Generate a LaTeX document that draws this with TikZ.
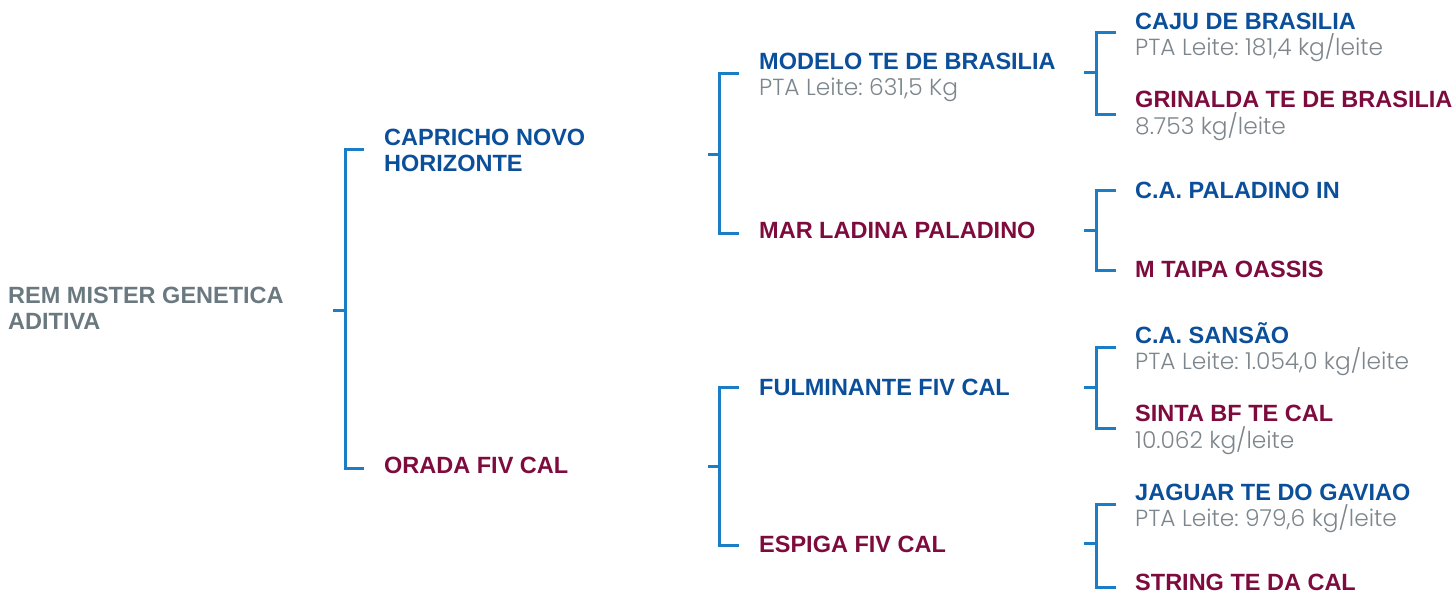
\documentclass[tikz,border=0pt]{standalone}
\usepackage{fontspec}
\setmainfont{Liberation Sans}
\newfontfamily\popfont{Poppins}[UprightFont=* Light]
\frenchspacing
\definecolor{nblue}{HTML}{0B4F9A}
\definecolor{nred}{HTML}{7E0B3E}
\definecolor{ngray}{HTML}{6A7880}
\definecolor{sgray}{HTML}{7D868C}
\definecolor{brblue}{HTML}{1A7DC6}
\begin{document}
\begin{tikzpicture}[x=1pt,y=-1pt,
  nm/.style={anchor=base west, inner sep=0pt, font=\bfseries\fontsize{23.5}{28}\selectfont},
  sire/.style={nm, text=nblue},
  dam/.style={nm, text=nred},
  root/.style={nm, text=ngray},
  sub/.style={anchor=base west, inner sep=0pt, font=\popfont\frenchspacing\fontsize{23.3}{27}\selectfont, text=sgray},
  br/.style={draw=brblue, line width=3pt, line join=miter, line cap=butt}]
\useasboundingbox (0,0) rectangle (1455,595);

% texts (base = cap centre + 8.4)
\node[root] (r1) at (8,303.4) {REM MISTER GENETICA};
\node[root] (r2) at (8,329.4) {ADITIVA};

\node[sire] (p1) at (384,145.4) {CAPRICHO NOVO};
\node[sire] (p1b) at (384,171.4) {HORIZONTE};
\node[dam] (p2) at (384,473.4) {ORADA FIV CAL};

\node[sire] (g1) at (759,69.4) {MODELO TE DE BRASILIA};
\node[sub] (g1s) at (759,95) {PTA Leite: 631,5 Kg};
\node[dam] (g2) at (759,238.4) {MAR LADINA PALADINO};
\node[sire] (g3) at (759,395.4) {FULMINANTE FIV CAL};
\node[dam] (g4) at (759,552.4) {ESPIGA FIV CAL};

\node[sire] (h1) at (1135,29.4) {CAJU DE BRASILIA};
\node[sub] (h1s) at (1135,55) {PTA Leite: 181,4 kg/leite};
\node[dam] (h2) at (1135,107.4) {GRINALDA TE DE BRASILIA};
\node[sub] (h2s) at (1135,134) {8.753 kg/leite};
\node[sire] (h3) at (1135,198.4) {C.A. PALADINO IN};
\node[dam] (h4) at (1135,277.4) {M TAIPA OASSIS};
\node[sire] (h5) at (1135,343.4) {C.A. SANSÃO};
\node[sub] (h5s) at (1135,369) {PTA Leite: 1.054,0 kg/leite};
\node[dam] (h6) at (1135,421.4) {SINTA BF TE CAL};
\node[sub] (h6s) at (1135,448) {10.062 kg/leite};
\node[sire] (h7) at (1135,500.4) {JAGUAR TE DO GAVIAO};
\node[sub] (h7s) at (1135,526) {PTA Leite: 979,6 kg/leite};
\node[dam] (h8) at (1135,590.4) {STRING TE DA CAL};

% bracket coordinates
\coordinate (a0) at (333,310);
\coordinate (a1) at (345,310);
\draw[br] (364,149) -- (345,149) -- (345,468) -- (364,468);
\draw[br] (a0) -- (a1);

\coordinate (b0) at (708,154);
\coordinate (b1) at (719,154);
\draw[br] (739,73) -- (719,73) -- (719,233) -- (739,233);
\draw[br] (b0) -- (b1);

\coordinate (c0) at (708,466);
\coordinate (c1) at (719,466);
\draw[br] (739,387) -- (719,387) -- (719,545) -- (739,545);
\draw[br] (c0) -- (c1);

\foreach \t/\b/\m/\n in {32/114/72/d1, 190/270/230/d2, 347/428/387/d3, 504/587/543/d4}{
  \coordinate (\n s) at (1084,\m);
  \coordinate (\n e) at (1096,\m);
  \draw[br] (1116,\t) -- (1096,\t) -- (1096,\b) -- (1116,\b);
  \draw[br] (\n s) -- (\n e);
}
\end{tikzpicture}
\end{document}
